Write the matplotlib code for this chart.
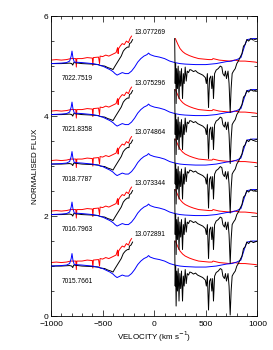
import numpy as np
import matplotlib.pyplot as plt
from matplotlib.ticker import MultipleLocator

plt.rcParams['font.family'] = ['Liberation Sans', 'DejaVu Sans']

# spectrum offsets and labels (bottom to top)
offsets = [0.0, 1.03, 2.04, 3.03, 4.05]
left_labels = ['7015.7661', '7016.7963', '7018.7787', '7021.8358', '7022.7519']
right_labels = ['13.072891', '13.073344', '13.074864', '13.075296', '13.077269']

# black profile, blue side of the line
black_left_v = [-1000, -900, -820, -800, -790, -780, -700, -600, -540, -520, -480,
                -450, -420, -400, -380, -350, -320, -300, -280, -260, -245, -240,
                -225, -210]
black_left_f = [1.0, 1.0, 1.01, 1.0, 0.97, 1.02, 1.0, 0.99, 0.98, 0.96, 0.95,
                0.92, 0.9, 0.88, 0.95, 1.05, 1.15, 1.25, 1.3, 1.33, 1.33, 1.4,
                1.42, 1.48]

# black profile, red side of the line
black_right_v = [198, 203, 207, 212, 218, 225, 232, 240, 248, 256, 264, 274, 282,
                 290, 300, 310, 320, 332, 345, 360, 380, 400, 420, 440, 470, 495,
                 505, 515, 526, 536, 548, 558, 566, 574, 585, 600, 620, 640, 655,
                 665, 680, 690, 700, 715, 725, 736, 745, 755, 768, 785, 800, 815,
                 833, 850, 865, 880, 897, 915, 935, 960, 1000]
black_right_f = [1.5, 0.6, 1.0, 0.2, 0.9, 0.5, 0.95, 0.3, 0.85, 0.55, 0.9, 0.3, 0.8,
                 0.6, 0.93, 0.65, 0.85, 0.82, 0.88, 0.87, 0.84, 0.86, 0.82, 0.8,
                 0.77, 0.72, 0.6, 0.8, 0.12, 0.7, 0.75, 0.5, 0.75, 0.3, 0.8, 0.87,
                 0.9, 0.95, 0.93, 0.8, 0.75, 0.85, 0.7, 0.85, 0.6, 0.02, 0.5, 0.8,
                 0.85, 0.9, 1.0, 1.05, 1.13, 1.2, 1.35, 1.38, 1.48, 1.45, 1.5,
                 1.47, 1.5]

# red profile
red_left_v = [-1000, -950, -900, -850, -810, -760, -755, -750, -700, -650, -600,
              -595, -590, -540, -530, -525, -500, -470, -440, -410, -390, -370,
              -355, -350, -345, -330, -310, -290, -270, -250, -235, -220]
red_left_f = [1.07, 1.08, 1.07, 1.08, 1.1, 1.1, 0.93, 1.1, 1.1, 1.12, 1.11,
              0.96, 1.12, 1.13, 1.0, 1.15, 1.14, 1.17, 1.15, 1.18, 1.2, 1.22,
              1.32, 1.2, 1.3, 1.35, 1.4, 1.38, 1.45, 1.42, 1.5, 1.55]
red_right_v = [205, 215, 230, 250, 275, 300, 340, 380, 430, 480, 530, 560, 570,
               630, 680, 730, 780, 830, 880, 930, 980, 1000]
red_right_f = [1.5, 1.45, 1.38, 1.3, 1.24, 1.2, 1.16, 1.13, 1.1, 1.09, 1.08, 1.08,
               1.1, 1.07, 1.06, 1.05, 1.07, 1.05, 1.05, 1.04, 1.03, 1.02]

# blue profile
blue_v = [-1000, -900, -850, -820, -805, -797, -788, -775, -700, -600, -550, -500,
          -470, -430, -400, -380, -360, -340, -310, -280, -250, -220, -190, -160,
          -130, -100, -70, -55, -40, 0, 50, 100, 150, 200, 250, 300, 400, 500, 600,
          650, 700, 750, 800, 840, 860, 880, 900, 950, 1000]
blue_f = [1.0, 1.01, 1.02, 1.05, 1.15, 1.25, 1.12, 1.03, 1.02, 1.0, 0.98, 0.95,
          0.92, 0.88, 0.84, 0.8, 0.77, 0.79, 0.82, 0.8, 0.8, 0.85, 0.93, 1.03,
          1.1, 1.15, 1.18, 1.21, 1.18, 1.15, 1.13, 1.1, 1.05, 1.02, 1.0, 0.99,
          0.98, 0.98, 1.0, 1.02, 1.04, 1.05, 1.08, 1.12, 1.25, 1.38, 1.48, 1.5, 1.5]

fig = plt.figure(figsize=(2.73, 3.5), dpi=100)
ax = fig.add_axes([0.187, 0.097, 0.756, 0.857])

lw = 0.7
for off, ll, rl in zip(offsets, left_labels, right_labels):
    ax.plot(black_left_v, np.array(black_left_f) + off, color='black', lw=lw, zorder=2)
    ax.plot(black_right_v, np.array(black_right_f) + off, color='black', lw=lw, zorder=4)
    ax.plot(red_left_v, np.array(red_left_f) + off, color='red', lw=lw, zorder=1)
    ax.plot(red_right_v, np.array(red_right_f) + off, color='red', lw=lw, zorder=1)
    ax.plot(blue_v, np.array(blue_f) + off, color='blue', lw=lw, zorder=3)
    ax.text(-895, off + 0.7, ll, fontsize=4.8, va='center', ha='left')
    ax.text(-195, off + 1.63, rl, fontsize=4.8, va='center', ha='left')

ax.set_xlim(-1000, 1000)
ax.set_ylim(0, 6)
ax.xaxis.set_major_locator(MultipleLocator(500))
ax.xaxis.set_minor_locator(MultipleLocator(100))
ax.yaxis.set_major_locator(MultipleLocator(2))
ax.yaxis.set_minor_locator(MultipleLocator(0.5))
ax.tick_params(which='both', direction='in', top=True, right=True,
               labelsize=6, width=0.5)
ax.tick_params(axis='x', pad=3.5)
ax.tick_params(axis='y', pad=2)
ax.tick_params(which='major', length=4)
ax.tick_params(which='minor', length=2)
for s in ax.spines.values():
    s.set_linewidth(0.6)

ax.set_xlabel('VELOCITY (km s$^{-1}$)', fontsize=5.8, labelpad=1)
ax.set_ylabel('NORMALISED FLUX', fontsize=5.8, labelpad=3)

fig.savefig('out.png', dpi=100)
